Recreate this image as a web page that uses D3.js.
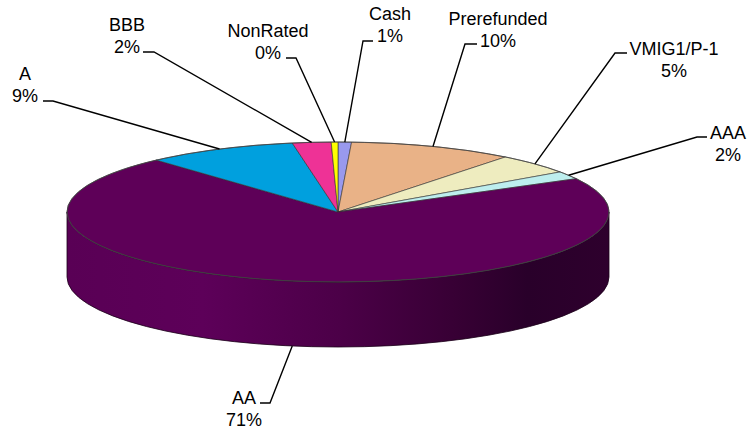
<!DOCTYPE html>
<html>
<head>
<meta charset="utf-8">
<script src="https://cdn.jsdelivr.net/npm/d3@7"></script>
<style>
  html, body { margin: 0; padding: 0; background: #ffffff; }
  svg { display: block; }
  text { font-family: "Liberation Sans", Arial, sans-serif; font-size: 18px; fill: #000; }
</style>
</head>
<body>
<svg id="chart" width="748" height="432"></svg>
<script>
// ---- data ----
const categories = ["Cash", "Prerefunded", "VMIG1/P-1", "AAA", "AA", "A", "BBB", "NonRated"];
const values     = [0.8, 9.8, 4.7, 1.8, 71.2, 9.0, 2.3, 0.4];
const colors     = ["#9999ee", "#e9b287", "#eeecbf", "#bdeeee", "#5e0058", "#00a0de", "#ee3296", "#ffff00"];

// ---- layout (label block centre x, first baseline y, leader elbow) ----
const labelLayout = [
  { cx: 390, by: 20,  sx: 373, ex: 363, ey: 41 },   // Cash
  { cx: 498, by: 25,  sx: 477, ex: 465, ey: 44 },   // Prerefunded
  { cx: 674, by: 55,  sx: 627, ex: 615, ey: 53 },   // VMIG1/P-1
  { cx: 728, by: 139, sx: 707, ex: 697, ey: 137 },  // AAA
  { cx: 244, by: 404, sx: 260, ex: 270, ey: 403 },  // AA
  { cx: 25,  by: 80,  sx: 43,  ex: 53,  ey: 101 },  // A
  { cx: 127, by: 31,  sx: 143, ex: 154, ey: 52 },   // BBB
  { cx: 268, by: 37,  sx: 286, ex: 296, ey: 58 }    // NonRated
];

const W = 748, H = 432;
const cx = 338, cy = 212, rx = 271, ry = 70, depth = 65;
const lineGap = 21.5;

const svg = d3.select("#chart");

const data = categories.map((c, i) => ({ name: c, value: values[i], color: colors[i], lay: labelLayout[i] }));
const pie = d3.pie().sort(null).value(d => d.value).startAngle(0).endAngle(2 * Math.PI);
const arcs = pie(data);

const px = a => cx + rx * Math.sin(a);
const py = a => cy - ry * Math.cos(a);

// gradient for side wall
const defs = svg.append("defs");
const grad = defs.append("linearGradient")
  .attr("id", "sideGrad").attr("gradientUnits", "userSpaceOnUse")
  .attr("x1", cx - rx).attr("y1", 0).attr("x2", cx + rx).attr("y2", 0);
[[0, "#590055"], [0.25, "#5d0059"], [0.5, "#4c0048"], [0.72, "#370034"], [0.85, "#29002a"], [1, "#2e002d"]]
  .forEach(([o, c]) => grad.append("stop").attr("offset", o).attr("stop-color", c));

// side walls (front half only: angles between PI/2 and 3PI/2)
const sideG = svg.append("g");
arcs.forEach(a => {
  const a0 = Math.max(a.startAngle, Math.PI / 2);
  const a1 = Math.min(a.endAngle, 3 * Math.PI / 2);
  if (a1 <= a0) return;
  const large = (a1 - a0) > Math.PI ? 1 : 0;
  const p = d3.path();
  const d = `M${px(a0)},${py(a0)} A${rx},${ry} 0 ${large} 1 ${px(a1)},${py(a1)}` +
            ` L${px(a1)},${py(a1) + depth} A${rx},${ry} 0 ${large} 0 ${px(a0)},${py(a0) + depth} Z`;
  sideG.append("path")
    .attr("d", d)
    .attr("fill", a.data.name === "AA" ? "url(#sideGrad)" : d3.color(a.data.color).darker(1))
    .attr("stroke", "#1a0018").attr("stroke-width", 0.8).attr("stroke-linejoin", "round");
});

// top face slices
const topG = svg.append("g");
arcs.forEach(a => {
  const large = (a.endAngle - a.startAngle) > Math.PI ? 1 : 0;
  const d = `M${cx},${cy} L${px(a.startAngle)},${py(a.startAngle)}` +
            ` A${rx},${ry} 0 ${large} 1 ${px(a.endAngle)},${py(a.endAngle)} Z`;
  topG.append("path")
    .attr("d", d)
    .attr("fill", a.data.color)
    .attr("stroke", "#333").attr("stroke-width", 0.6).attr("stroke-linejoin", "round");
});
// outer rim outline
svg.append("ellipse").attr("cx", cx).attr("cy", cy).attr("rx", rx).attr("ry", ry)
  .attr("fill", "none").attr("stroke", "#444").attr("stroke-width", 0.8);

// labels and leader lines
const labG = svg.append("g");
arcs.forEach(a => {
  const L = a.data.lay;
  const mid = (a.startAngle + a.endAngle) / 2;
  let tx = px(mid), ty = py(mid);
  if (Math.cos(mid) < 0) ty += depth;
  labG.append("polyline")
    .attr("points", `${L.sx},${L.ey} ${L.ex},${L.ey} ${tx},${ty}`)
    .attr("fill", "none").attr("stroke", "#000").attr("stroke-width", 1.4);
  const t = labG.append("text").attr("text-anchor", "middle");
  t.append("tspan").attr("x", L.cx).attr("y", L.by).text(a.data.name);
  t.append("tspan").attr("x", L.cx).attr("y", L.by + lineGap).text(Math.round(a.data.value) + "%");
});
</script>
</body>
</html>
